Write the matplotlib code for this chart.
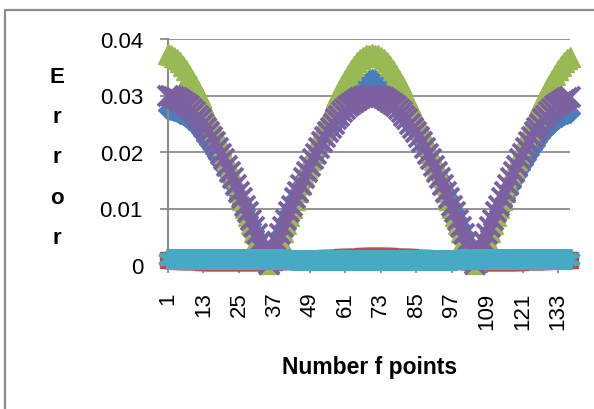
import numpy as np
import matplotlib
matplotlib.use("Agg")
import matplotlib.pyplot as plt
from matplotlib.lines import Line2D

plt.rcParams['font.family'] = ['Liberation Sans', 'DejaVu Sans']

# category axis: points 1..137
points = list(range(1, 138))
tick_labels = ['1', '13', '25', '37', '49', '61', '73', '85', '97', '109', '121', '133']
y_ticks = [0, 0.01, 0.02, 0.03, 0.04]

series_blue = [
    .0275, .0274, .0272, .0271, .0268, .0265, .0262, .0257, .0253, .0248,
    .0242, .0236, .0230, .0222, .0215, .0207, .0199, .0190, .0181, .0171,
    .0162, .0152, .0141, .0130, .0119, .0108, .0097, .0085, .0073, .0061,
    .0049, .0037, .0025, .0012, .0001,
    .0013, .0027, .0040, .0054, .0067, .0080, .0093, .0105, .0118, .0130,
    .0142, .0154, .0165, .0176, .0187, .0197, .0207, .0217, .0226, .0235,
    .0243, .0250, .0258, .0264, .0270, .0276, .0282, .0288, .0295, .0302,
    .0309, .0316, .0322, .0327, .0330,
    .0327, .0322, .0316, .0309, .0302, .0295, .0288, .0282, .0276, .0270,
    .0264, .0258, .0250, .0243, .0235, .0226, .0217, .0207, .0197, .0187,
    .0176, .0165, .0154, .0142, .0130, .0118, .0105, .0093, .0080, .0067,
    .0054, .0040, .0027, .0013, .0001,
    .0012, .0024, .0036, .0049, .0061, .0072, .0084, .0095, .0107, .0118,
    .0129, .0139, .0150, .0160, .0170, .0179, .0188, .0197, .0205, .0213,
    .0220, .0227, .0233, .0239, .0245, .0250, .0254, .0259, .0262, .0265,
    .0267, .0269,
]

series_red = [
    .0008, .0008, .0008, .0008, .0007, .0007, .0007, .0007, .0007, .0007,
    .0007, .0007, .0006, .0006, .0006, .0006, .0006, .0006, .0006, .0006,
    .0006, .0006, .0006, .0006, .0006, .0006, .0006, .0006, .0006, .0006,
    .0006, .0006, .0006, .0006, .0006, .0006,
    .0006, .0007, .0007, .0007, .0007, .0008, .0008, .0008, .0009, .0009,
    .0009, .0010, .0010, .0010, .0011, .0011, .0011, .0012, .0012, .0012,
    .0013, .0013, .0013, .0014, .0014, .0014, .0015, .0015, .0015, .0015,
    .0016, .0016, .0016, .0016, .0016,
    .0016, .0016, .0016, .0016, .0016, .0015, .0015, .0015, .0015, .0014,
    .0014, .0014, .0013, .0013, .0013, .0012, .0012, .0011, .0011, .0011,
    .0010, .0010, .0009, .0009, .0009, .0008, .0008, .0008, .0007, .0007,
    .0007, .0007, .0006, .0006, .0006,
    .0006, .0006, .0006, .0006, .0006, .0006, .0006, .0006, .0006, .0006,
    .0006, .0006, .0006, .0006, .0007, .0007, .0007, .0007, .0007, .0007,
    .0007, .0007, .0007, .0008, .0008, .0008, .0008, .0008, .0008, .0008,
    .0008,
]

series_green = [
    .0373, .0371, .0368, .0364, .0359, .0353, .0345, .0337, .0328, .0319,
    .0308, .0298, .0287, .0275, .0263, .0251, .0239, .0226, .0213, .0199,
    .0186, .0172, .0158, .0143, .0129, .0115, .0101, .0087, .0073, .0059,
    .0046, .0033, .0021, .0010, .0001,
    .0010, .0021, .0033, .0046, .0059, .0073, .0087, .0101, .0115, .0129,
    .0143, .0158, .0172, .0186, .0199, .0213, .0226, .0239, .0251, .0263,
    .0275, .0287, .0298, .0308, .0319, .0328, .0337, .0345, .0353, .0359,
    .0364, .0368, .0371, .0372, .0373,
    .0372, .0371, .0368, .0364, .0359, .0353, .0345, .0337, .0328, .0319,
    .0308, .0298, .0287, .0275, .0263, .0251, .0239, .0226, .0213, .0199,
    .0186, .0172, .0158, .0143, .0129, .0115, .0101, .0087, .0073, .0059,
    .0046, .0033, .0021, .0010, .0001,
    .0010, .0021, .0033, .0046, .0059, .0073, .0087, .0101, .0115, .0129,
    .0143, .0158, .0172, .0186, .0199, .0213, .0226, .0239, .0251, .0263,
    .0275, .0287, .0298, .0308, .0319, .0328, .0337, .0345, .0353, .0359,
    .0364, .0368,
]

series_purple = [
    .0300, .0299, .0297, .0295, .0292, .0289, .0285, .0281, .0276, .0270,
    .0264, .0258, .0250, .0243, .0235, .0226, .0217, .0207, .0197, .0187,
    .0176, .0165, .0154, .0142, .0130, .0118, .0105, .0093, .0080, .0067,
    .0054, .0040, .0027, .0013, .0001,
    .0013, .0027, .0040, .0054, .0067, .0080, .0093, .0105, .0118, .0130,
    .0142, .0154, .0165, .0176, .0187, .0197, .0207, .0217, .0226, .0235,
    .0243, .0250, .0258, .0264, .0270, .0276, .0281, .0285, .0289, .0292,
    .0295, .0297, .0299, .0300, .0300,
    .0300, .0299, .0297, .0295, .0292, .0289, .0285, .0281, .0276, .0270,
    .0264, .0258, .0250, .0243, .0235, .0226, .0217, .0207, .0197, .0187,
    .0176, .0165, .0154, .0142, .0130, .0118, .0105, .0093, .0080, .0067,
    .0054, .0040, .0027, .0013, .0001,
    .0013, .0027, .0040, .0054, .0067, .0080, .0093, .0105, .0118, .0130,
    .0142, .0154, .0165, .0176, .0187, .0197, .0207, .0217, .0226, .0235,
    .0243, .0250, .0258, .0264, .0270, .0276, .0281, .0285, .0289, .0292,
    .0295, .0297,
]

series_cyan = [
    .0011, .0011, .0011, .0011, .0011, .0011, .0011, .0011, .0011, .0011,
    .0011, .0011, .0011, .0011, .0011, .0011, .0011, .0011, .0011, .0011,
    .0011, .0011, .0011, .0011, .0011, .0011, .0011, .0011, .0011, .0011,
    .0010, .0010, .0010, .0010, .0010, .0010,
    .0010, .0010, .0010, .0010, .0010, .0010, .0009, .0009, .0009, .0009,
    .0009, .0009, .0009, .0009, .0009, .0008, .0008, .0008, .0008, .0008,
    .0008, .0008, .0008, .0008, .0008, .0008, .0008, .0008, .0008, .0008,
    .0008, .0008, .0008, .0008, .0008,
    .0008, .0008, .0008, .0008, .0008, .0008, .0008, .0008, .0008, .0008,
    .0008, .0008, .0008, .0008, .0008, .0008, .0008, .0009, .0009, .0009,
    .0009, .0009, .0009, .0009, .0009, .0009, .0009, .0010, .0010, .0010,
    .0010, .0010, .0010, .0010, .0010,
    .0010, .0010, .0010, .0010, .0010, .0010, .0010, .0010, .0010, .0010,
    .0010, .0010, .0010, .0010, .0010, .0010, .0010, .0010, .0010, .0010,
    .0010, .0010, .0010, .0010, .0010, .0010, .0010, .0010, .0010, .0010,
    .0010,
]

fig = plt.figure(figsize=(5.94, 4.10), dpi=100)
ax = fig.add_axes([168 / 594, 144 / 410, 402 / 594, 226 / 410])

grid_col = '#8a8a8a'
for yv in y_ticks[1:]:
    ax.axhline(yv, color=grid_col, lw=1.3, zorder=0.5)

# series in Excel order, later ones on top
ax.plot(points, series_blue, color='#4a7ebb', lw=2.5, marker='D', ms=10,
        mec='#4a7ebb', clip_on=False, zorder=2)
ax.plot(points, series_red, color='#be4b48', lw=2.5, marker='s', ms=11,
        mec='#be4b48', clip_on=False, zorder=3)
ax.plot(points, series_green, color='#98b954', lw=2.5, marker='^', ms=15,
        mec='#98b954', clip_on=False, zorder=4)
ax.plot(points, series_purple, color='#7d60a0', lw=2.5, marker='x', ms=15,
        mew=2.8, clip_on=False, zorder=5)
ax.plot(points, series_cyan, color='#46aac5', lw=2.5, marker=(6, 2, 0), ms=15,
        mew=2.8, mec='#46aac5', clip_on=False, zorder=6)

ax.set_xlim(1, 137)
ax.set_ylim(0, 0.04)
ax.set_xticks([int(t) for t in tick_labels])
ax.set_xticklabels(tick_labels, rotation=90, fontsize=16)
ax.set_yticks(y_ticks)
ax.set_yticklabels(['0', '0.01', '0.02', '0.03', '0.04'], fontsize=16)
ax.tick_params(axis='y', length=6, width=1.3, color=grid_col, pad=12)
ax.tick_params(axis='x', length=6, width=1.3, color=grid_col, pad=13)
for s in ['top', 'right']:
    ax.spines[s].set_visible(False)
ax.spines['left'].set_color(grid_col)
ax.spines['left'].set_linewidth(1.5)
ax.spines['bottom'].set_color(grid_col)
ax.spines['bottom'].set_linewidth(1.5)

fig.text(370 / 594, 1 - 368 / 410, 'Number f points', ha='center', va='center',
         fontsize=16.5, fontweight='bold')
fig.text(57 / 594, 1 - 158 / 410, '\n'.join('Error'), ha='center', va='center',
         fontsize=16, fontweight='bold', linespacing=2.2)

# chart area border
fig.add_artist(Line2D([5 / 594, 5 / 594, 1], [0, 1 - 10.5 / 410, 1 - 10.5 / 410],
                      transform=fig.transFigure, color='#8c8c8c', lw=1.6))

fig.savefig('out.png', dpi=100)
